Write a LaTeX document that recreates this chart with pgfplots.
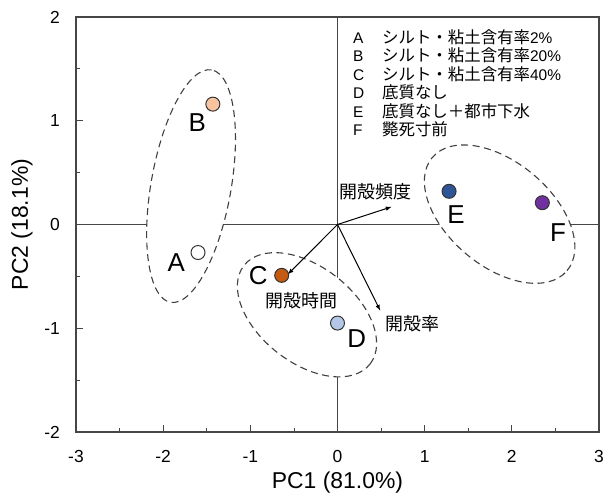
\documentclass[border=0pt]{standalone}
\usepackage{fontspec}
\setmainfont{Liberation Sans}
\newfontfamily\jp{Noto Sans CJK JP}
\usepackage{pgfplots}
\pgfplotsset{compat=1.18}
\definecolor{cB}{RGB}{248,196,160}
\definecolor{cC}{RGB}{197,90,17}
\definecolor{cD}{RGB}{180,199,231}
\definecolor{cE}{RGB}{47,85,151}
\definecolor{cF}{RGB}{112,48,160}
\definecolor{frame}{RGB}{70,70,70}
\newcommand{\J}[1]{{\jp\fontsize{16.5}{16.5}\selectfont #1}}
\begin{document}
\begin{tikzpicture}
\begin{axis}[
  scale only axis, width=523bp, height=415bp,
  xmin=-3, xmax=3, ymin=-2, ymax=2,
  xtick={-3,-2,-1,0,1,2,3}, ytick={-2,-1,0,1,2},
  minor x tick num=1, minor y tick num=1,
  xtick pos=lower, ytick pos=left,
  tick align=inside,
  major tick length=7bp, minor tick length=4bp,
  axis line style={frame, line width=1.1pt},
  tick style={frame, line width=0.8pt},
  /pgf/number format/assume math mode=true,
  ticklabel style={font=\fontsize{17.5}{20}\selectfont, inner sep=0pt},
  xticklabel style={yshift=-18bp},
  yticklabel style={xshift=-16bp},
  label style={font=\fontsize{23}{25}\selectfont, inner sep=0pt},
  xlabel={PC1 (81.0\%)}, ylabel={PC2 (18.1\%)},
  xlabel style={at={([yshift=-51bp]axis description cs:0.5,0)}, anchor=center},
  ylabel style={at={([xshift=-54bp]axis description cs:0,0.5)}, anchor=center},
  clip=false,
]
\coordinate (ll) at (rel axis cs:0,0);
\coordinate (ur) at (rel axis cs:1,1);
% cross lines
\draw[frame, line width=0.8pt] (axis cs:-3,0) -- (axis cs:3,0);
\draw[frame, line width=0.8pt] (axis cs:0,-2) -- (axis cs:0,2);
% ellipses
\draw[line width=1.1pt, dash pattern=on 7bp off 4.5bp, draw=black!75, fill=white]
  (axis cs:-1.68,0.37) ellipse [x radius=118bp, y radius=40bp, rotate=80];
\draw[line width=1.1pt, dash pattern=on 7bp off 4.5bp, draw=black!75, fill=white]
  (axis cs:-0.35,-0.87) ellipse [x radius=80bp, y radius=48bp, rotate=-38];
\draw[line width=1.1pt, dash pattern=on 7bp off 4.5bp, draw=black!75, fill=white]
  (axis cs:1.86,0.10) ellipse [x radius=88bp, y radius=52bp, rotate=-40];
% arrows
\addplot[black, line width=1pt, -latex] coordinates {(0,0) (0.62,0.17)};
\addplot[black, line width=1pt, -latex] coordinates {(0,0) (-0.57,-0.48)};
\addplot[black, line width=1pt, -latex] coordinates {(0,0) (0.49,-0.83)};
% points
\addplot[only marks, mark=*, mark size=7bp, mark options={fill=white, draw=black!80, line width=1pt}] coordinates {(-1.60,-0.27)};
\addplot[only marks, mark=*, mark size=7bp, mark options={fill=cB, draw=black!80, line width=1pt}] coordinates {(-1.43,1.16)};
\addplot[only marks, mark=*, mark size=7bp, mark options={fill=cC, draw=black!80, line width=1pt}] coordinates {(-0.64,-0.49)};
\addplot[only marks, mark=*, mark size=7bp, mark options={fill=cD, draw=black!80, line width=1pt}] coordinates {(0.0,-0.95)};
\addplot[only marks, mark=*, mark size=7bp, mark options={fill=cE, draw=black!80, line width=1pt}] coordinates {(1.28,0.32)};
\addplot[only marks, mark=*, mark size=7bp, mark options={fill=cF, draw=black!80, line width=1pt}] coordinates {(2.35,0.21)};
% point labels
\begin{scope}[font=\fontsize{26}{26}\selectfont]
\node at (axis cs:-1.85,-0.37) {A};
\node at (axis cs:-1.61,0.98) {B};
\node at (axis cs:-0.91,-0.49) {C};
\node at (axis cs:0.22,-1.10) {D};
\node at (axis cs:1.36,0.10) {E};
\node at (axis cs:2.53,-0.08) {F};
\end{scope}
% vector labels
\begin{scope}[font=\jp\fontsize{18}{18}\selectfont, inner sep=0pt]
\node at (axis cs:0.44,0.32) {開殻頻度};
\node at (axis cs:-0.41,-0.73) {開殻時間};
\node at (axis cs:0.86,-0.955) {開殻率};
\end{scope}
% legend
\begin{scope}[font=\fontsize{15.5}{15.5}\selectfont, inner sep=0pt]
\node[anchor=base west] at (axis cs:0.178,1.745) {A};
\node[anchor=base west] at (axis cs:0.178,1.567) {B};
\node[anchor=base west] at (axis cs:0.178,1.389) {C};
\node[anchor=base west] at (axis cs:0.178,1.211) {D};
\node[anchor=base west] at (axis cs:0.178,1.033) {E};
\node[anchor=base west] at (axis cs:0.178,0.855) {F};
\node[anchor=base west] at (axis cs:0.51,1.745) {\J{シルト・粘土含有率}2\%};
\node[anchor=base west] at (axis cs:0.51,1.567) {\J{シルト・粘土含有率}20\%};
\node[anchor=base west] at (axis cs:0.51,1.389) {\J{シルト・粘土含有率}40\%};
\node[anchor=base west] at (axis cs:0.51,1.211) {\J{底質なし}};
\node[anchor=base west] at (axis cs:0.51,1.033) {\J{底質なし＋都市下水}};
\node[anchor=base west] at (axis cs:0.51,0.855) {\J{斃死寸前}};
\end{scope}
\end{axis}
\path ([shift={(-76bp,-64bp)}]ll) rectangle ([shift={(9bp,17bp)}]ur);
\end{tikzpicture}
\end{document}
